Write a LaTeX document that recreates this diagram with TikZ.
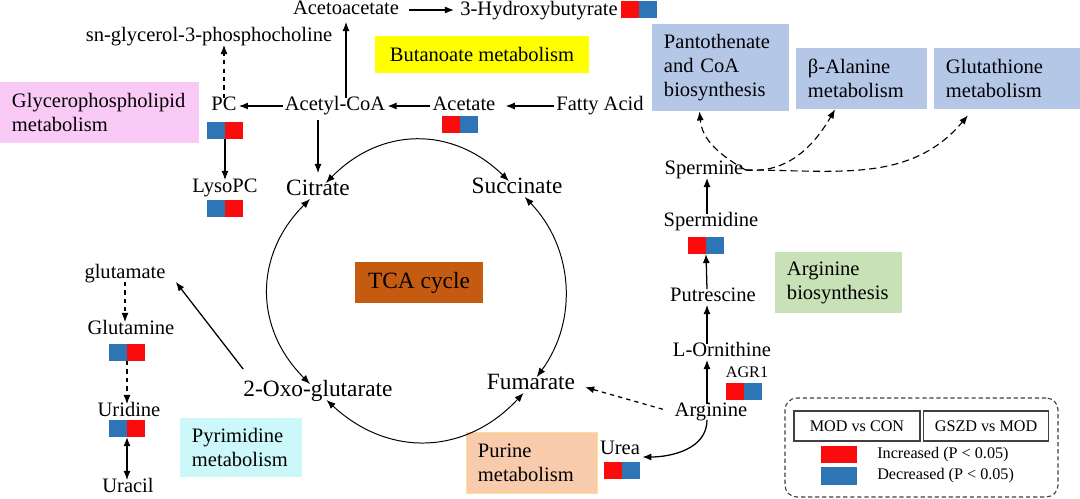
\documentclass[tikz,border=0pt]{standalone}
\usepackage{fontspec}
\setmainfont{Liberation Serif}
\usepackage{tikz}
\usetikzlibrary{arrows.meta, positioning, calc}
\usepackage{xcolor}
\definecolor{upRed}{RGB}{250, 12, 12}
\definecolor{downBlue}{RGB}{46, 117, 182}
\definecolor{tcaOrange}{RGB}{197, 90, 17}
\definecolor{butYellow}{RGB}{255, 255, 0}
\definecolor{glyPink}{RGB}{250, 202, 246}
\definecolor{pathBlue}{RGB}{180, 199, 231}
\definecolor{pyrCyan}{RGB}{204, 248, 250}
\definecolor{argGreen}{RGB}{200, 225, 182}
\definecolor{purPeach}{RGB}{248, 203, 173}
\definecolor{purEdge}{RGB}{255, 222, 140}
\definecolor{keyGray}{RGB}{64, 64, 64}
\newcommand{\metfont}{\fontsize{14.6}{17}\selectfont}
\newcommand{\tcafont}{\fontsize{16.6}{19}\selectfont}
\newcommand{\keyfont}{\fontsize{11.5}{13}\selectfont}

\begin{document}
\begin{tikzpicture}[
    x=0.025cm, y=0.025cm,
    met/.style={
        font=\metfont,
        inner sep=0.05cm,
        text height=1.5ex,
        text depth=0.25ex
    },
    tcamet/.style={
        met,
        font=\tcafont
    },
    pathbox/.style={
        rectangle,
        font=\metfont,
        align=left,
        inner xsep=0.3cm,
        inner ysep=0pt,
        minimum height=1.525cm
    },
    upcell/.style={
        rectangle,
        fill=upRed,
        minimum width=0.45cm,
        minimum height=0.425cm,
        inner sep=0pt,
        outer sep=0pt
    },
    downcell/.style={
        upcell,
        fill=downBlue
    },
    arr/.style={
        -{Latex[length=6.5pt,width=5pt]},
        line width=0.9pt
    },
    darr/.style={
        {Latex[length=6.5pt,width=5pt]}-{Latex[length=6.5pt,width=5pt]},
        line width=0.7pt
    },
    sparr/.style={
        arr,
        line width=0.8pt,
        dash pattern=on 5pt off 3pt
    },
    keyframe/.style={
        rectangle,
        rounded corners=0.3cm,
        draw=keyGray,
        line width=0.8pt,
        dash pattern=on 3pt off 2pt
    },
    keyhead/.style={
        rectangle,
        draw=keyGray,
        line width=1.1pt,
        minimum width=3.15cm,
        minimum height=0.75cm,
        inner sep=0pt,
        font=\keyfont
    }
]
\useasboundingbox (0,0) rectangle (1080,-499);

% Pathway boxes
\node[pathbox, fill=glyPink, text width=4.375cm] (glyco) at (99.5,-112.5) {Glycerophospholipid\\metabolism};
\node[pathbox, fill=butYellow, align=center, minimum width=5.35cm, minimum height=0.925cm] (butan) at (482,-54.5) {Butanoate metabolism};
\node[pathbox, fill=pathBlue, text width=2.825cm, minimum height=2.175cm] (panto) at (720.5,-67.5) {Pantothenate\\and CoA\\biosynthesis};
\node[pathbox, fill=pathBlue, text width=2.675cm] (alanine) at (861.5,-78.5) {β-Alanine\\metabolism};
\node[pathbox, fill=pathBlue, text width=3.05cm] (glutath) at (1007,-78.5) {Glutathione\\metabolism};
\node[pathbox, fill=tcaOrange, font=\tcafont, align=center, minimum width=3.2cm, minimum height=1.025cm] (tca) at (419,-282.5) {TCA cycle};
\node[pathbox, fill=pyrCyan, text width=2.45cm, minimum height=1.475cm] (pyrim) at (241,-447.5) {Pyrimidine\\metabolism};
\node[pathbox, fill=argGreen, text width=2.575cm] (argbio) at (838.5,-282.5) {Arginine\\biosynthesis};
\node[pathbox, fill=purPeach, draw=purEdge, line width=0.6pt, text width=2.675cm] (purine) at (531.5,-462.5) {Purine\\metabolism};

% Top - butanoate and glycerophospholipid branch
\node[met] (acetoac) at (346,-10) {Acetoacetate};
\node[met] (hydroxy) at (539,-11) {3-Hydroxybutyrate};
\node[met] (snglyc) at (209,-37) {sn-glycerol-3-phosphocholine};
\node[met] (pc) at (224,-106) {PC};
\node[met] (acetyl) at (335,-106) {Acetyl-CoA};
\node[met] (acetate) at (464,-106) {Acetate};
\node[met] (fatty) at (600,-106) {Fatty Acid};
\node[met] (lysopc) at (225,-188) {LysoPC};

% TCA cycle
\node[tcamet] (citrate) at (318,-191) {Citrate};
\node[tcamet] (succ) at (517,-189) {Succinate};
\node[tcamet] (oxo) at (318,-392) {2-Oxo-glutarate};
\node[tcamet] (fumar) at (531,-385) {Fumarate};

% Left column - pyrimidine
\node[met] (glutamate) at (125,-274) {glutamate};
\node[met] (glutamine) at (131,-330) {Glutamine};
\node[met] (uridine) at (129,-412) {Uridine};
\node[met] (uracil) at (128,-488) {Uracil};

% Right column - arginine
\coordinate (col) at (707,0);
\node[met] (spermine) at (704,-170) {Spermine};
\node[met] (spermidine) at (711,-222) {Spermidine};
\node[met] (putresc) at (713,-297) {Putrescine};
\node[met] (ornith) at (722,-352) {L-Ornithine};
\node[met] (arginine) at (711,-412) {Arginine};
\node[met, font=\keyfont] (agr) at (747,-373) {AGR1};
\node[met] (urea) at (620,-450) {Urea};

% Colour bars
\node[upcell, anchor=north west] (hydU) at (621,-1) {};
\node[downcell, right=0pt of hydU] (hydD) {};
\node[upcell, anchor=north west] (actU) at (442,-116) {};
\node[downcell, right=0pt of actU] (actD) {};
\node[downcell, anchor=north west] (pcD) at (207,-122) {};
\node[upcell, right=0pt of pcD] (pcU) {};
\node[downcell, anchor=north west] (lysD) at (207,-200) {};
\node[upcell, right=0pt of lysD] (lysU) {};
\node[downcell, anchor=north west] (glnD) at (109,-344) {};
\node[upcell, right=0pt of glnD] (glnU) {};
\node[downcell, anchor=north west] (uriD) at (109,-420) {};
\node[upcell, right=0pt of uriD] (uriU) {};
\node[upcell, anchor=north west] (sdU) at (688,-237) {};
\node[downcell, right=0pt of sdU] (sdD) {};
\node[upcell, anchor=north west] (agrU) at (726,-383) {};
\node[downcell, right=0pt of agrU] (agrD) {};
\node[upcell, anchor=north west] (ureaU) at (604,-462) {};
\node[downcell, right=0pt of ureaU] (ureaD) {};

% Arrows - top
\draw[arr, shorten >=0.1cm] (acetyl.north -| acetoac) -- (acetoac.south);
\draw[arr, shorten <=0.2cm, shorten >=0.1cm] (acetoac.east) -- (acetoac.east -| hydroxy.west);
\draw[arr, dashed] (pc.north) -- (pc.north |- snglyc.south);
\draw[arr] (acetyl.west) -- (pc.east);
\draw[arr] (acetate.west) -- (acetyl.east);
\draw[arr, shorten >=0.2cm] (fatty.west) -- (acetate.east);
\draw[arr] (pcD.south east) -- (pcD.south east |- lysopc.north);
\draw[arr, shorten <=0.15cm, shorten >=0.25cm] (acetyl.south -| citrate) -- (citrate.north);

% Arrows - TCA cycle
\draw[darr] (citrate) to[bend left=45, looseness=1.1] (succ);
\draw[darr] (succ) to[bend left=40] (fumar);
\draw[darr] (fumar) to[bend left=45, looseness=1.1] (oxo);
\draw[darr] (oxo) to[bend left=45, looseness=1.1] (citrate);

% Arrows - left column
\draw[arr] ([shift={(2,15)}]oxo.north west) -- ([shift={(8,0)}]glutamate.south east);
\draw[arr, dashed] (glutamate.south) -- (glutamate.south |- glutamine.north);
\draw[arr, dashed] (glnD.south east) -- (glnD.south east |- uridine.north);
\draw[darr, line width=0.9pt] (uriD.south east) -- (uriD.south east |- uracil.north);

% Arrows - right column
\draw[arr] (arginine.north -| col) -- (ornith.south -| col);
\draw[arr] (ornith.north -| col) -- (putresc.south -| col);
\draw[arr] (putresc.north -| col) -- (sdU.south east);
\draw[arr] (spermidine.north -| col) -- (spermine.south -| col);
\draw[arr, dashed, shorten <=0.25cm, shorten >=0.2cm] (arginine.west) -- (fumar.east);
\draw[arr] (arginine.south -| col) to[out=-90, in=0] ([yshift=-0.175cm]urea.east);
\draw[sparr] (spermine.east) to[out=150, in=-85] ([xshift=-0.525cm]panto.south);
\draw[sparr] (spermine.east) to[out=-5, in=-120] ([xshift=-0.66cm]alanine.south);
\draw[sparr] (spermine.east) to[out=0, in=-130] ([shift={(-39,-6)}]glutath.south);

% Legend
\node[keyframe, minimum width=6.825cm, minimum height=2.475cm] (legend) at (921.5,-447.5) {};
\node[keyhead] (modcon) at (857,-426) {MOD vs CON};
\node[keyhead, minimum width=3.125cm, right=0.05cm of modcon] (gszd) {GSZD vs MOD};
\node[upcell, minimum width=0.9cm] (keyup) at (839,-454.5) {};
\node[downcell, minimum width=0.9cm, minimum height=0.45cm] (keydown) at (839,-476) {};
\node[font=\keyfont, inner sep=0pt, right=0.5cm of keyup] (incr) {Increased (P < 0.05)};
\node[font=\keyfont, inner sep=0pt, right=0.5cm of keydown] (decr) {Decreased (P < 0.05)};

\end{tikzpicture}
\end{document}
